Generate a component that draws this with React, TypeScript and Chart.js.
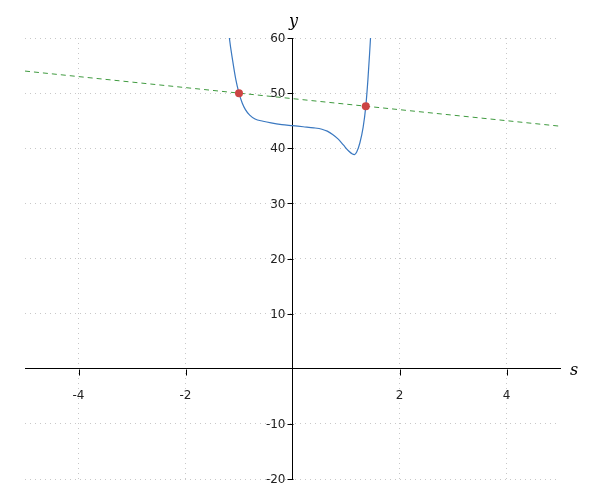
import React, { useEffect, useRef } from "react";
import { Chart, registerables } from "chart.js";

Chart.register(...registerables);

const curveX = [-1.22, -1.18, -1.12, -1.06, -1.0, -0.94, -0.88, -0.8, -0.7, -0.55, -0.4, -0.2, 0, 0.2, 0.4, 0.55, 0.65, 0.75, 0.85, 0.95, 1.05, 1.12, 1.16, 1.2, 1.26, 1.32, 1.37, 1.41, 1.44, 1.47];
const curveY = [64, 60, 56, 52.5, 50, 48.2, 47, 46, 45.3, 44.9, 44.6, 44.3, 44.1, 43.9, 43.7, 43.45, 43.1, 42.5, 41.7, 40.6, 39.5, 38.95, 38.85, 39.3, 41, 43.8, 47.6, 52.5, 57, 62];
const lineX = [-5, 5];
const lineY = [54, 44];
const pointX = [-1.0, 1.37];
const pointY = [50, 47.63];
const xTicks = [-4, -2, 0, 2, 4];
const yTicks = [-20, -10, 0, 10, 20, 30, 40, 50, 60];

const axisDecor = {
  id: "axisDecor",
  afterDraw(chart: any) {
    const { ctx, chartArea, scales } = chart;
    const x0 = Math.round(scales.x.getPixelForValue(0)) + 0.5;
    const y0 = Math.round(scales.y.getPixelForValue(0)) + 0.5;
    ctx.save();
    ctx.strokeStyle = "#000";
    ctx.lineWidth = 1;
    ctx.setLineDash([]);
    ctx.beginPath();
    xTicks.forEach((v) => {
      if (v === 0) return;
      const px = Math.round(scales.x.getPixelForValue(v)) + 0.5;
      ctx.moveTo(px, y0);
      ctx.lineTo(px, y0 + 6);
    });
    yTicks.forEach((v) => {
      if (v === 0) return;
      const py = Math.round(scales.y.getPixelForValue(v)) + 0.5;
      ctx.moveTo(x0, py);
      ctx.lineTo(x0 - 6, py);
    });
    ctx.stroke();
    ctx.fillStyle = "#222";
    ctx.font = "12px 'DejaVu Sans'";
    ctx.textAlign = "right";
    ctx.textBaseline = "middle";
    yTicks.forEach((v) => {
      if (v === 0) return;
      ctx.fillText(String(v), x0 - 8, scales.y.getPixelForValue(v) + 1);
    });
    ctx.fillStyle = "#000";
    ctx.font = "italic 16px 'DejaVu Serif'";
    ctx.textAlign = "center";
    ctx.textBaseline = "alphabetic";
    ctx.fillText("y", x0, chartArea.top - 12);
    ctx.textAlign = "left";
    ctx.textBaseline = "middle";
    ctx.fillText("s", chartArea.right + 10, y0 + 1);
    ctx.restore();
  },
};

export default function App() {
  const ref = useRef<HTMLCanvasElement | null>(null);
  useEffect(() => {
    if (!ref.current) return;
    const tickLabel = (v: any) => (Number(v) === 0 ? "" : String(v));
    const chart = new Chart(ref.current, {
      type: "scatter",
      data: {
        datasets: [
          {
            data: pointX.map((x, i) => ({ x, y: pointY[i] })),
            showLine: false,
            pointRadius: 4,
            pointBackgroundColor: "#cc4444",
            pointBorderColor: "#cc4444",
            borderWidth: 0,
            order: 0,
          },
          {
            data: curveX.map((x, i) => ({ x, y: curveY[i] })),
            showLine: true,
            pointRadius: 0,
            borderColor: "#3a78c0",
            borderWidth: 1.2,
            cubicInterpolationMode: "monotone",
            order: 1,
          },
          {
            data: lineX.map((x, i) => ({ x, y: lineY[i] })),
            showLine: true,
            pointRadius: 0,
            borderColor: "#3f9a3f",
            borderWidth: 1,
            borderDash: [5, 4],
            order: 2,
          },
        ],
      },
      options: {
        animation: false,
        responsive: false,
        maintainAspectRatio: false,
        layout: { padding: { left: 25, right: 40, top: 38, bottom: 21 } },
        plugins: { legend: { display: false }, tooltip: { enabled: false } },
        scales: {
          x: {
            type: "linear",
            min: -5,
            max: 5,
            position: { y: 0 } as any,
            afterBuildTicks: (s: any) => {
              s.ticks = xTicks.map((v) => ({ value: v }));
            },
            grid: {
              color: "#c8c8c8",
              drawTicks: false,
              lineWidth: 1,
            },
            border: { color: "#000", width: 1, dash: [1, 4] },
            ticks: {
              callback: tickLabel,
              color: "#222",
              font: { family: "'DejaVu Sans'", size: 12 },
              padding: 20,
              maxRotation: 0,
            },
          },
          y: {
            type: "linear",
            min: -20,
            max: 60,
            position: { x: 0 } as any,
            afterBuildTicks: (s: any) => {
              s.ticks = yTicks.map((v) => ({ value: v }));
            },
            grid: {
              color: "#c8c8c8",
              drawTicks: false,
              lineWidth: 1,
            },
            border: { color: "#000", width: 1, dash: [1, 4] },
            ticks: { display: false },
          },
        },
      } as any,
      plugins: [axisDecor],
    });
    return () => chart.destroy();
  }, []);
  return (
    <div style={{ position: "absolute", left: 0, top: 0, width: 600, height: 500, background: "#fff" }}>
      <canvas ref={ref} width={600} height={500} style={{ width: 600, height: 500 }} />
    </div>
  );
}
